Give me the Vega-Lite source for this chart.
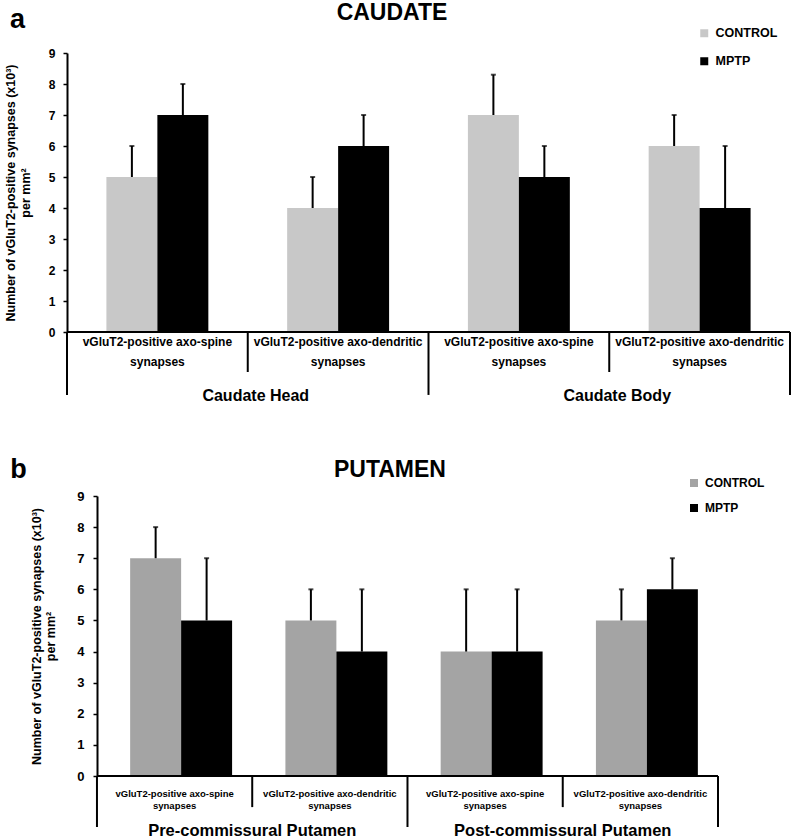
{
  "$schema": "https://vega.github.io/schema/vega-lite/v6.json",
  "padding": {"left": 4, "top": 1, "right": 5, "bottom": 0},
  "config": {
    "font": "Liberation Sans",
    "view": {"stroke": null},
    "text": {"color": "black", "fontWeight": "bold"},
    "axisY": {"tickCount": 10, "grid": false}
  },
  "datasets": {
    "caudate": [
      {"cat": "c1", "lab": "vGluT2-positive axo-spine\nsynapses", "grp": "CONTROL", "val": 5, "hi": 6},
      {"cat": "c1", "lab": "vGluT2-positive axo-spine\nsynapses", "grp": "MPTP", "val": 7, "hi": 8},
      {"cat": "c2", "lab": "vGluT2-positive axo-dendritic\nsynapses", "grp": "CONTROL", "val": 4, "hi": 5},
      {"cat": "c2", "lab": "vGluT2-positive axo-dendritic\nsynapses", "grp": "MPTP", "val": 6, "hi": 7},
      {"cat": "c3", "lab": "vGluT2-positive axo-spine\nsynapses", "grp": "CONTROL", "val": 7, "hi": 8.3},
      {"cat": "c3", "lab": "vGluT2-positive axo-spine\nsynapses", "grp": "MPTP", "val": 5, "hi": 6},
      {"cat": "c4", "lab": "vGluT2-positive axo-dendritic\nsynapses", "grp": "CONTROL", "val": 6, "hi": 7},
      {"cat": "c4", "lab": "vGluT2-positive axo-dendritic\nsynapses", "grp": "MPTP", "val": 4, "hi": 6}
    ],
    "putamen": [
      {"cat": "c1", "lab": "vGluT2-positive axo-spine\nsynapses", "grp": "CONTROL", "val": 7, "hi": 8},
      {"cat": "c1", "lab": "vGluT2-positive axo-spine\nsynapses", "grp": "MPTP", "val": 5, "hi": 7},
      {"cat": "c2", "lab": "vGluT2-positive axo-dendritic\nsynapses", "grp": "CONTROL", "val": 5, "hi": 6},
      {"cat": "c2", "lab": "vGluT2-positive axo-dendritic\nsynapses", "grp": "MPTP", "val": 4, "hi": 6},
      {"cat": "c3", "lab": "vGluT2-positive axo-spine\nsynapses", "grp": "CONTROL", "val": 4, "hi": 6},
      {"cat": "c3", "lab": "vGluT2-positive axo-spine\nsynapses", "grp": "MPTP", "val": 4, "hi": 6},
      {"cat": "c4", "lab": "vGluT2-positive axo-dendritic\nsynapses", "grp": "CONTROL", "val": 5, "hi": 6},
      {"cat": "c4", "lab": "vGluT2-positive axo-dendritic\nsynapses", "grp": "MPTP", "val": 6, "hi": 7}
    ]
  },
  "vconcat": [
    {
      "width": 723,
      "height": 279,
      "data": {"name": "caudate"},
      "layer": [
        {
          "layer": [
            {
              "mark": {"type": "bar"},
              "encoding": {
                "x": {"field": "cat", "type": "nominal", "scale": {"paddingInner": 0.436, "paddingOuter": 0.218}, "axis": null},
                "xOffset": {"field": "grp", "type": "nominal", "scale": {"paddingInner": 0, "paddingOuter": 0}},
                "y": {
                  "field": "val", "type": "quantitative",
                  "scale": {"domain": [0, 9], "nice": false},
                  "axis": {
                    "title": ["Number of vGluT2-positive synapses (x10³)", "per mm²"],
                    "values": [0, 1, 2, 3, 4, 5, 6, 7, 8, 9],
                    "tickCount": 10,
                    "grid": false,
                    "domainColor": "black", "domainWidth": 2,
                    "tickColor": "black", "tickWidth": 1.5, "tickSize": 4,
                    "labelFontSize": 12, "labelFontWeight": "bold", "labelColor": "black", "labelPadding": 8,
                    "titleFontSize": 12.5, "titleFontWeight": "bold", "titleColor": "black",
                    "titlePadding": 16, "titleLineHeight": 15
                  }
                },
                "color": {
                  "field": "grp", "type": "nominal",
                  "scale": {"domain": ["CONTROL", "MPTP"], "range": ["#c8c8c8", "#000000"]},
                  "legend": {
                    "title": null, "orient": "none", "legendX": 631, "legendY": -26,
                    "symbolType": "square", "symbolSize": 64, "symbolStrokeWidth": 0,
                    "labelFontSize": 12.5, "labelFontWeight": "bold", "labelColor": "black",
                    "rowPadding": 15, "labelOffset": 5
                  }
                }
              }
            },
            {
              "mark": {"type": "rule", "strokeWidth": 2, "color": "black"},
              "encoding": {
                "x": {"field": "cat", "type": "nominal"},
                "xOffset": {"field": "grp", "type": "nominal"},
                "y": {"field": "val", "type": "quantitative"},
                "y2": {"field": "hi"}
              }
            },
            {
              "mark": {"type": "tick", "orient": "horizontal", "size": 5, "thickness": 2, "color": "black"},
              "encoding": {
                "x": {"field": "cat", "type": "nominal"},
                "xOffset": {"field": "grp", "type": "nominal"},
                "y": {"field": "hi", "type": "quantitative"}
              }
            },
            {
              "transform": [{"filter": "datum.grp === 'CONTROL'"}],
              "mark": {"type": "text", "lineBreak": "\n", "baseline": "top", "fontSize": 12, "lineHeight": 20},
              "encoding": {
                "x": {"field": "cat", "type": "nominal"},
                "y": {"datum": -0.16, "type": "quantitative"},
                "text": {"field": "lab"}
              }
            }
          ]
        },
        {
          "layer": [
            {
              "data": {"values": [{"b": 0}, {"b": 2}, {"b": 4}]},
              "mark": {"type": "rule", "strokeWidth": 2, "color": "black"},
              "encoding": {
                "x": {"field": "b", "type": "quantitative", "scale": {"domain": [0, 4], "nice": false, "zero": false}, "axis": null},
                "y": {"datum": 0, "type": "quantitative"},
                "y2": {"datum": -2.03}
              }
            },
            {
              "data": {"values": [{"b": 1}, {"b": 3}]},
              "mark": {"type": "rule", "strokeWidth": 2, "color": "black"},
              "encoding": {
                "x": {"field": "b", "type": "quantitative"},
                "y": {"datum": 0, "type": "quantitative"},
                "y2": {"datum": -1.29}
              }
            },
            {
              "data": {"values": [{"b0": 0, "b1": 4}]},
              "mark": {"type": "rule", "strokeWidth": 2, "color": "black"},
              "encoding": {
                "x": {"field": "b0", "type": "quantitative"},
                "x2": {"field": "b1"},
                "y": {"datum": 0, "type": "quantitative"}
              }
            },
            {
              "data": {"values": [{"g": "Caudate Head", "c": 1}, {"g": "Caudate Body", "c": 3}]},
              "mark": {"type": "text", "fontSize": 16, "baseline": "alphabetic", "dx": 8},
              "encoding": {
                "x": {"field": "c", "type": "quantitative"},
                "y": {"datum": -2.23, "type": "quantitative"},
                "text": {"field": "g"}
              }
            },
            {
              "data": {"values": [{"t": "a"}]},
              "mark": {"type": "text", "fontSize": 27, "baseline": "alphabetic"},
              "encoding": {
                "x": {"datum": -0.274, "type": "quantitative"},
                "y": {"datum": 9.81, "type": "quantitative"},
                "text": {"field": "t"}
              }
            },
            {
              "data": {"values": [{"t": "CAUDATE"}]},
              "mark": {"type": "text", "fontSize": 23, "baseline": "alphabetic"},
              "encoding": {
                "x": {"datum": 1.798, "type": "quantitative"},
                "y": {"datum": 10.07, "type": "quantitative"},
                "text": {"field": "t"}
              }
            }
          ]
        }
      ],
      "resolve": {"scale": {"x": "independent"}}
    },
    {
      "width": 651,
      "height": 280,
      "data": {"name": "putamen"},
      "layer": [
        {
          "layer": [
            {
              "mark": {"type": "bar"},
              "encoding": {
                "x": {"field": "cat", "type": "nominal", "scale": {"paddingInner": 0.427, "paddingOuter": 0.31, "align": 0.656}, "axis": null},
                "xOffset": {"field": "grp", "type": "nominal", "scale": {"paddingInner": 0, "paddingOuter": 0}},
                "y": {
                  "field": "val", "type": "quantitative",
                  "scale": {"domain": [0, 9], "nice": false},
                  "axis": {
                    "title": ["Number of vGluT2-positive synapses (x10³)", "per mm²"],
                    "values": [0, 1, 2, 3, 4, 5, 6, 7, 8, 9],
                    "tickCount": 10,
                    "offset": -30,
                    "grid": false,
                    "domainColor": "black", "domainWidth": 2,
                    "tickColor": "black", "tickWidth": 1.5, "tickSize": 4,
                    "labelFontSize": 13, "labelFontWeight": "bold", "labelColor": "black", "labelPadding": 9,
                    "titleFontSize": 12.5, "titleFontWeight": "bold", "titleColor": "black",
                    "titlePadding": 19, "titleLineHeight": 14
                  }
                },
                "color": {
                  "field": "grp", "type": "nominal",
                  "scale": {"domain": ["CONTROL", "MPTP"], "range": ["#a4a4a4", "#000000"]},
                  "legend": {
                    "title": null, "orient": "none", "legendX": 621, "legendY": -19,
                    "symbolType": "square", "symbolSize": 64, "symbolStrokeWidth": 0,
                    "labelFontSize": 12, "labelFontWeight": "bold", "labelColor": "black",
                    "rowPadding": 13, "labelOffset": 5
                  }
                }
              }
            },
            {
              "mark": {"type": "rule", "strokeWidth": 2, "color": "black"},
              "encoding": {
                "x": {"field": "cat", "type": "nominal"},
                "xOffset": {"field": "grp", "type": "nominal"},
                "y": {"field": "val", "type": "quantitative"},
                "y2": {"field": "hi"}
              }
            },
            {
              "mark": {"type": "tick", "orient": "horizontal", "size": 5, "thickness": 2, "color": "black"},
              "encoding": {
                "x": {"field": "cat", "type": "nominal"},
                "xOffset": {"field": "grp", "type": "nominal"},
                "y": {"field": "hi", "type": "quantitative"}
              }
            },
            {
              "transform": [{"filter": "datum.grp === 'CONTROL'"}],
              "mark": {"type": "text", "lineBreak": "\n", "baseline": "top", "fontSize": 9.5, "lineHeight": 12},
              "encoding": {
                "x": {"field": "cat", "type": "nominal"},
                "y": {"datum": -0.42, "type": "quantitative"},
                "text": {"field": "lab"}
              }
            }
          ]
        },
        {
          "layer": [
            {
              "data": {"values": [{"b": 0}, {"b": 2}, {"b": 4}]},
              "mark": {"type": "rule", "strokeWidth": 2, "color": "black"},
              "encoding": {
                "x": {"field": "b", "type": "quantitative", "scale": {"domain": [-0.193, 4], "nice": false, "zero": false}, "axis": null},
                "y": {"datum": 0, "type": "quantitative"},
                "y2": {"datum": -1.64}
              }
            },
            {
              "data": {"values": [{"b": 1}, {"b": 3}]},
              "mark": {"type": "rule", "strokeWidth": 2, "color": "black"},
              "encoding": {
                "x": {"field": "b", "type": "quantitative"},
                "y": {"datum": 0, "type": "quantitative"},
                "y2": {"datum": -1.0}
              }
            },
            {
              "data": {"values": [{"b0": 0, "b1": 4}]},
              "mark": {"type": "rule", "strokeWidth": 2, "color": "black"},
              "encoding": {
                "x": {"field": "b0", "type": "quantitative"},
                "x2": {"field": "b1"},
                "y": {"datum": 0, "type": "quantitative"}
              }
            },
            {
              "data": {"values": [{"g": "Pre-commissural Putamen", "c": 1}, {"g": "Post-commissural Putamen", "c": 3}]},
              "mark": {"type": "text", "fontSize": 16.5, "baseline": "alphabetic"},
              "encoding": {
                "x": {"field": "c", "type": "quantitative"},
                "y": {"datum": -1.93, "type": "quantitative"},
                "text": {"field": "g"}
              }
            },
            {
              "data": {"values": [{"t": "b"}]},
              "mark": {"type": "text", "fontSize": 27, "baseline": "alphabetic"},
              "encoding": {
                "x": {"datum": -0.506, "type": "quantitative"},
                "y": {"datum": 9.58, "type": "quantitative"},
                "text": {"field": "t"}
              }
            },
            {
              "data": {"values": [{"t": "PUTAMEN"}]},
              "mark": {"type": "text", "fontSize": 23, "baseline": "alphabetic"},
              "encoding": {
                "x": {"datum": 1.887, "type": "quantitative"},
                "y": {"datum": 9.61, "type": "quantitative"},
                "text": {"field": "t"}
              }
            }
          ]
        }
      ],
      "resolve": {"scale": {"x": "independent"}}
    }
  ],
  "spacing": 50,
  "resolve": {"scale": {"color": "independent"}, "legend": {"color": "independent"}}
}
